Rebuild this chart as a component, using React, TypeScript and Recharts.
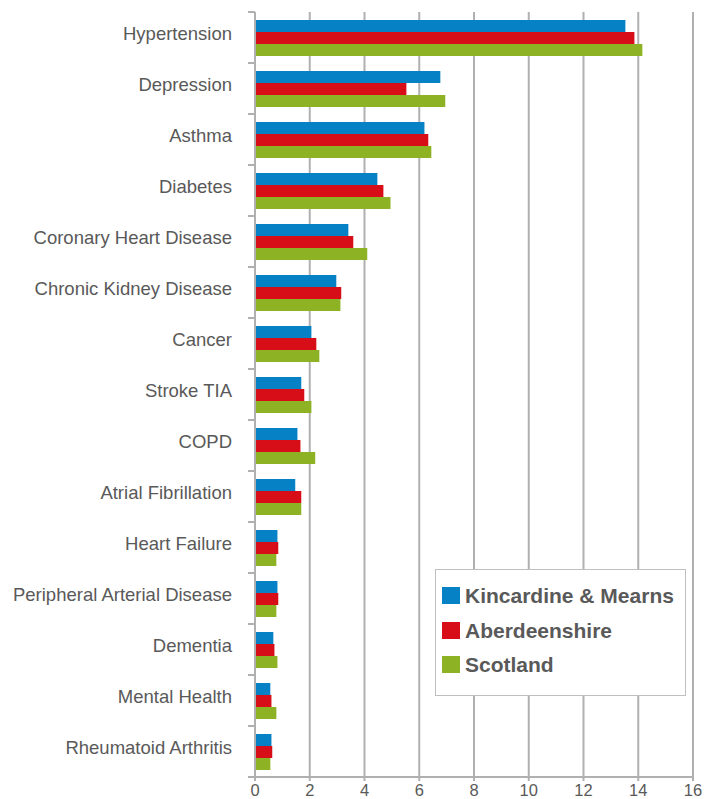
import React from "react";
import { BarChart, Bar, XAxis, YAxis, CartesianGrid, Legend } from "recharts";

const categories = [
  "Hypertension",
  "Depression",
  "Asthma",
  "Diabetes",
  "Coronary Heart Disease",
  "Chronic Kidney Disease",
  "Cancer",
  "Stroke TIA",
  "COPD",
  "Atrial Fibrillation",
  "Heart Failure",
  "Peripheral Arterial Disease",
  "Dementia",
  "Mental Health",
  "Rheumatoid Arthritis",
];
const kincardine = [13.53, 6.77, 6.19, 4.47, 3.41, 2.97, 2.06, 1.69, 1.55, 1.47, 0.82, 0.82, 0.67, 0.56, 0.6];
const aberdeenshire = [13.86, 5.53, 6.33, 4.69, 3.59, 3.15, 2.24, 1.8, 1.66, 1.69, 0.85, 0.85, 0.71, 0.6, 0.63];
const scotland = [14.15, 6.95, 6.44, 4.95, 4.1, 3.12, 2.35, 2.06, 2.2, 1.69, 0.78, 0.78, 0.82, 0.78, 0.56];
const xTicks = [0, 2, 4, 6, 8, 10, 12, 14, 16];

const seriesNames = ["Kincardine & Mearns", "Aberdeenshire", "Scotland"];
const seriesColors = ["#0781c5", "#d70e17", "#8db324"];

const data = categories.map((name, i) => ({
  name,
  k: kincardine[i],
  a: aberdeenshire[i],
  s: scotland[i],
}));

const W = 700;
const H = 791;
const M = { top: 4, right: 15, left: 0, bottom: 0 };
const X_AXIS_H = 22;
const Y_AXIS_W = 247;
const GRID = "#b0b0b0";
const TEXT = "#595959";

const plotH = H - M.top - M.bottom - X_AXIS_H;
const band = plotH / categories.length;

const CatTick = (props: any) => {
  const { x, y, payload, index } = props;
  const axisX = x + 23;
  return (
    <g>
      <text x={x} y={y + 2} textAnchor="end" fontSize={18.5} fill={TEXT}>
        {payload.value}
      </text>
      <line x1={axisX - 7} x2={axisX} y1={y - band / 2} y2={y - band / 2} stroke={GRID} strokeWidth={2} />
      {index === categories.length - 1 ? (
        <line x1={axisX - 7} x2={axisX} y1={y + band / 2} y2={y + band / 2} stroke={GRID} strokeWidth={2} />
      ) : null}
    </g>
  );
};

const LegendBox = () => (
  <div
    style={{
      position: "relative",
      width: 251,
      height: 127,
      boxSizing: "border-box",
      border: "1.5px solid #bfbfbf",
      background: "#fff",
    }}
  >
    {seriesNames.map((n, i) => (
      <div
        key={n}
        style={{
          position: "absolute",
          left: 6,
          top: 17 + i * 34.5,
          height: 17,
          display: "flex",
          alignItems: "center",
          whiteSpace: "nowrap",
        }}
      >
        <span style={{ display: "inline-block", width: 18, height: 17, background: seriesColors[i] }} />
        <span
          style={{
            marginLeft: 5,
            fontSize: 21,
            fontWeight: "bold",
            color: TEXT,
            lineHeight: "17px",
          }}
        >
          {n}
        </span>
      </div>
    ))}
  </div>
);

export default function App() {
  return (
    <div style={{ width: W, height: H, fontFamily: '"Liberation Sans", Arial, sans-serif' }}>
      <BarChart
        width={W}
        height={H}
        data={data}
        layout="vertical"
        margin={M}
        barGap={0}
        barSize={12}
      >
        <CartesianGrid horizontal={false} vertical={true} stroke={GRID} strokeWidth={2} />
        <XAxis
          type="number"
          domain={[0, 16]}
          ticks={xTicks}
          interval={0}
          height={X_AXIS_H}
          axisLine={{ stroke: GRID, strokeWidth: 2 }}
          tickLine={{ stroke: GRID, strokeWidth: 2 }}
          tickSize={4}
          tickMargin={3}
          tick={{ fontSize: 16.5, fill: TEXT }}
        />
        <YAxis
          type="category"
          dataKey="name"
          width={Y_AXIS_W}
          interval={0}
          axisLine={{ stroke: GRID, strokeWidth: 2 }}
          tickLine={false}
          tickSize={7}
          tickMargin={16}
          tick={<CatTick />}
        />
        <Legend
          layout="vertical"
          align="center"
          verticalAlign="middle"
          wrapperStyle={{ left: 427, top: 561, width: 251, height: 127 }}
          content={() => <LegendBox />}
        />
        <Bar dataKey="k" name={seriesNames[0]} fill={seriesColors[0]} isAnimationActive={false} />
        <Bar dataKey="a" name={seriesNames[1]} fill={seriesColors[1]} isAnimationActive={false} />
        <Bar dataKey="s" name={seriesNames[2]} fill={seriesColors[2]} isAnimationActive={false} />
      </BarChart>
    </div>
  );
}
